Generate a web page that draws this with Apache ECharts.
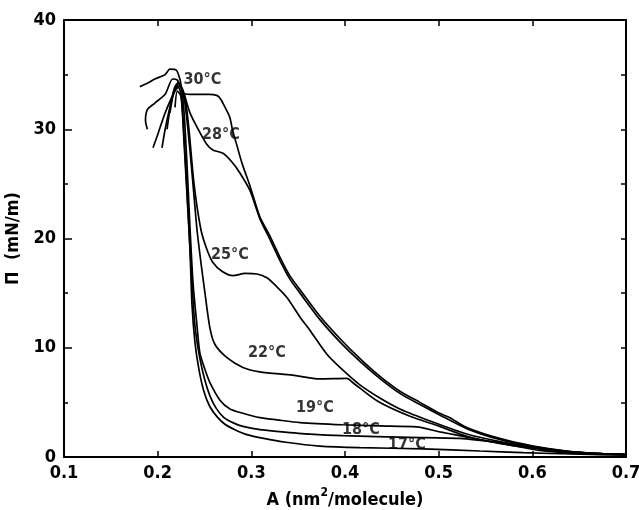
<!DOCTYPE html>
<html>
<head>
<meta charset="utf-8">
<script src="https://cdn.jsdelivr.net/npm/echarts@6/dist/echarts.min.js"></script>
<style>
html,body{margin:0;padding:0;background:#fff;}
#chart{width:639px;height:510px;}
</style>
</head>
<body>
<div id="chart"></div>
<script>
// Surface pressure isotherms: [A (nm^2/molecule), Pi (mN/m)]
const iso30 = [[0.181,33.9],[0.189,34.2],[0.197,34.6],[0.208,35.0],[0.213,35.5],[0.220,35.4],[0.224,34.5],[0.227,33.3],[0.235,33.2],[0.245,33.2],[0.255,33.2],[0.263,33.1],[0.267,32.8],[0.272,32.0],[0.277,31.1],[0.280,29.9],[0.285,28.4],[0.290,26.9],[0.299,24.7],[0.309,22.0],[0.320,20.2],[0.331,18.2],[0.341,16.6],[0.352,15.3],[0.373,12.9],[0.395,10.8],[0.416,9.0],[0.437,7.4],[0.459,6.0],[0.480,5.0],[0.501,4.0],[0.512,3.6],[0.530,2.7],[0.565,1.7],[0.601,1.0],[0.637,0.55],[0.672,0.32],[0.700,0.25]];
const iso28 = [[0.189,30.0],[0.187,30.8],[0.189,31.8],[0.197,32.4],[0.208,33.2],[0.216,34.6],[0.221,34.5],[0.226,33.6],[0.229,33.0],[0.2345,31.5],[0.242,30.2],[0.2526,28.6],[0.259,28.1],[0.2697,27.8],[0.2793,27.0],[0.2878,26.0],[0.2985,24.4],[0.3092,21.8],[0.320,19.9],[0.331,17.9],[0.341,16.3],[0.352,15.0],[0.373,12.6],[0.395,10.5],[0.416,8.75],[0.437,7.2],[0.459,5.8],[0.480,4.8],[0.501,3.85],[0.530,2.6],[0.565,1.6],[0.601,0.95],[0.637,0.52],[0.672,0.3],[0.700,0.24]];
const iso25 = [[0.195,28.3],[0.200,29.5],[0.208,31.5],[0.2185,33.5],[0.224,34.0],[0.229,33.0],[0.2334,30.0],[0.2388,25.0],[0.2462,20.8],[0.2526,19.0],[0.259,17.8],[0.2686,17.0],[0.2804,16.6],[0.2932,16.8],[0.306,16.75],[0.3166,16.4],[0.327,15.6],[0.338,14.6],[0.352,12.8],[0.3625,11.6],[0.3807,9.4],[0.3946,8.2],[0.4159,6.6],[0.4372,5.4],[0.4586,4.4],[0.4938,3.2],[0.530,2.1],[0.5653,1.4],[0.6005,0.9],[0.6368,0.5],[0.672,0.3],[0.700,0.23]];
const iso22 = [[0.2046,28.3],[0.208,30.0],[0.213,32.0],[0.218,33.6],[0.223,34.2],[0.228,33.0],[0.2323,30.0],[0.2377,25.0],[0.242,20.8],[0.2462,17.8],[0.2505,15.0],[0.2558,11.8],[0.2612,10.3],[0.274,9.1],[0.291,8.2],[0.309,7.8],[0.344,7.5],[0.373,7.15],[0.402,7.2],[0.4085,6.8],[0.435,5.1],[0.470,3.7],[0.501,2.8],[0.530,1.9],[0.565,1.25],[0.601,0.8],[0.637,0.45],[0.672,0.28],[0.700,0.22]];
const iso19 = [[0.210,30.0],[0.214,32.3],[0.218,33.8],[0.222,34.3],[0.226,33.5],[0.229,30.5],[0.2323,25.0],[0.2345,21.0],[0.2377,16.0],[0.242,12.0],[0.2451,9.5],[0.2505,8.0],[0.2558,6.8],[0.2665,5.2],[0.2772,4.4],[0.291,4.0],[0.3092,3.6],[0.3273,3.4],[0.3519,3.15],[0.3977,2.95],[0.4372,2.85],[0.4767,2.75],[0.5013,2.3],[0.5194,2.0],[0.544,1.6],[0.5728,1.15],[0.608,0.6],[0.6507,0.3],[0.700,0.2]];
const iso18 = [[0.2131,31.5],[0.217,33.3],[0.221,34.0],[0.225,33.2],[0.2291,28.0],[0.2334,21.0],[0.2366,16.0],[0.2398,12.0],[0.2451,9.0],[0.2505,7.0],[0.2558,5.6],[0.2622,4.5],[0.2708,3.6],[0.2814,3.1],[0.291,2.8],[0.3092,2.5],[0.3273,2.35],[0.3625,2.1],[0.3977,1.95],[0.4692,1.8],[0.5226,1.7],[0.5653,1.3],[0.6005,0.85],[0.6368,0.5],[0.672,0.3],[0.700,0.22]];
const iso17 = [[0.2185,32.0],[0.221,33.5],[0.225,33.0],[0.228,29.0],[0.2313,24.0],[0.2345,19.0],[0.2366,14.0],[0.2398,10.5],[0.2441,8.0],[0.2494,6.0],[0.2558,4.6],[0.2633,3.7],[0.2718,3.0],[0.2825,2.5],[0.2953,2.05],[0.3132,1.7],[0.3369,1.35],[0.3732,1.0],[0.4159,0.85],[0.4831,0.75],[0.5440,0.55],[0.5899,0.4],[0.6507,0.25],[0.700,0.2]];

// Curve labels: [A, Pi, text]
const curveLabels = [[0.2478,34.5,'30°C'],[0.2676,29.5,'28°C'],[0.2772,18.5,'25°C'],[0.3167,9.5,'22°C'],[0.3679,4.5,'19°C'],[0.417,2.5,'18°C'],[0.466,1.1,'17°C']];

const xTicks = {min:0.1, max:0.7, step:0.1};
const yTicks = {min:0, max:40, step:10};

const FONT = '"Liberation Sans Narrow","DejaVu Sans Condensed","Liberation Sans",Arial,sans-serif';
const chart = echarts.init(document.getElementById('chart'), null, {renderer:'canvas'});

const lineSeries = [iso30, iso28, iso25, iso22, iso19, iso18, iso17].map((d,i)=>({
  type:'line', data:d, showSymbol:false, symbol:'none', smooth:0.25,
  xAxisIndex:0, yAxisIndex:0,
  lineStyle:{color:'#000', width:1.7}, silent:true, z:2
}));

const axisLineStyle = {color:'#000', width:2};
chart.setOption({
  animation:false,
  backgroundColor:'#fff',
  grid:{left:64, right:13, top:20, bottom:53, containLabel:false, outerBoundsMode:'none'},
  xAxis:[{
    type:'value', min:xTicks.min, max:xTicks.max, interval:xTicks.step, position:'bottom',
    name:'{a|A (nm}{s|2}{a|/molecule)}', nameLocation:'middle', nameGap:30,
    nameTextStyle:{rich:{a:{fontFamily:FONT, fontWeight:'bold', fontSize:18, color:'#000', verticalAlign:'bottom'}, s:{fontFamily:FONT, fontWeight:'bold', fontSize:12, color:'#000', verticalAlign:'top', padding:[0,0,10,0]}}},
    axisLine:{show:true, onZero:false, lineStyle:axisLineStyle},
    axisTick:{show:true, inside:true, length:6, lineStyle:{color:'#000', width:1.5}},
    axisLabel:{show:true, margin:7, color:'#000', fontFamily:FONT, fontWeight:'bold', fontSize:18, showMinLabel:true, showMaxLabel:true, formatter:v=>v.toFixed(1)},
    splitLine:{show:false}
  },{
    type:'value', min:xTicks.min, max:xTicks.max, interval:xTicks.step, position:'top',
    axisLine:{show:true, onZero:false, lineStyle:axisLineStyle},
    axisTick:{show:true, inside:true, length:6, lineStyle:{color:'#000', width:1.5}},
    axisLabel:{show:false}, splitLine:{show:false}
  }],
  yAxis:[{
    type:'value', min:yTicks.min, max:yTicks.max, interval:yTicks.step, position:'left',
    name:'Π  (mN/m)', nameLocation:'middle', nameGap:37, nameRotate:90,
    nameTextStyle:{fontFamily:FONT, fontWeight:'bold', fontSize:18, color:'#000'},
    axisLine:{show:true, onZero:false, lineStyle:axisLineStyle},
    axisTick:{show:true, inside:true, length:8, lineStyle:{color:'#000', width:1.5}},
    minorTick:{show:true, splitNumber:2, length:4, lineStyle:{color:'#000', width:1.5}},
    axisLabel:{show:true, margin:8, color:'#000', fontFamily:FONT, fontWeight:'bold', fontSize:18},
    splitLine:{show:false}
  },{
    type:'value', min:yTicks.min, max:yTicks.max, interval:5, position:'right',
    axisLine:{show:true, onZero:false, lineStyle:axisLineStyle},
    axisTick:{show:true, inside:true, length:5, lineStyle:{color:'#000', width:1.5}},
    axisLabel:{show:false}, splitLine:{show:false}
  }],
  series: lineSeries.concat([{
    type:'scatter', xAxisIndex:0, yAxisIndex:0, symbolSize:0, silent:true, z:5,
    data: curveLabels.map(l=>({value:[l[0], l[1]], name:l[2]})),
    label:{show:true, position:'inside', formatter:p=>p.name, color:'#000', fontFamily:FONT, fontWeight:'bold', fontSize:16}
  }])
});
</script>
</body>
</html>
